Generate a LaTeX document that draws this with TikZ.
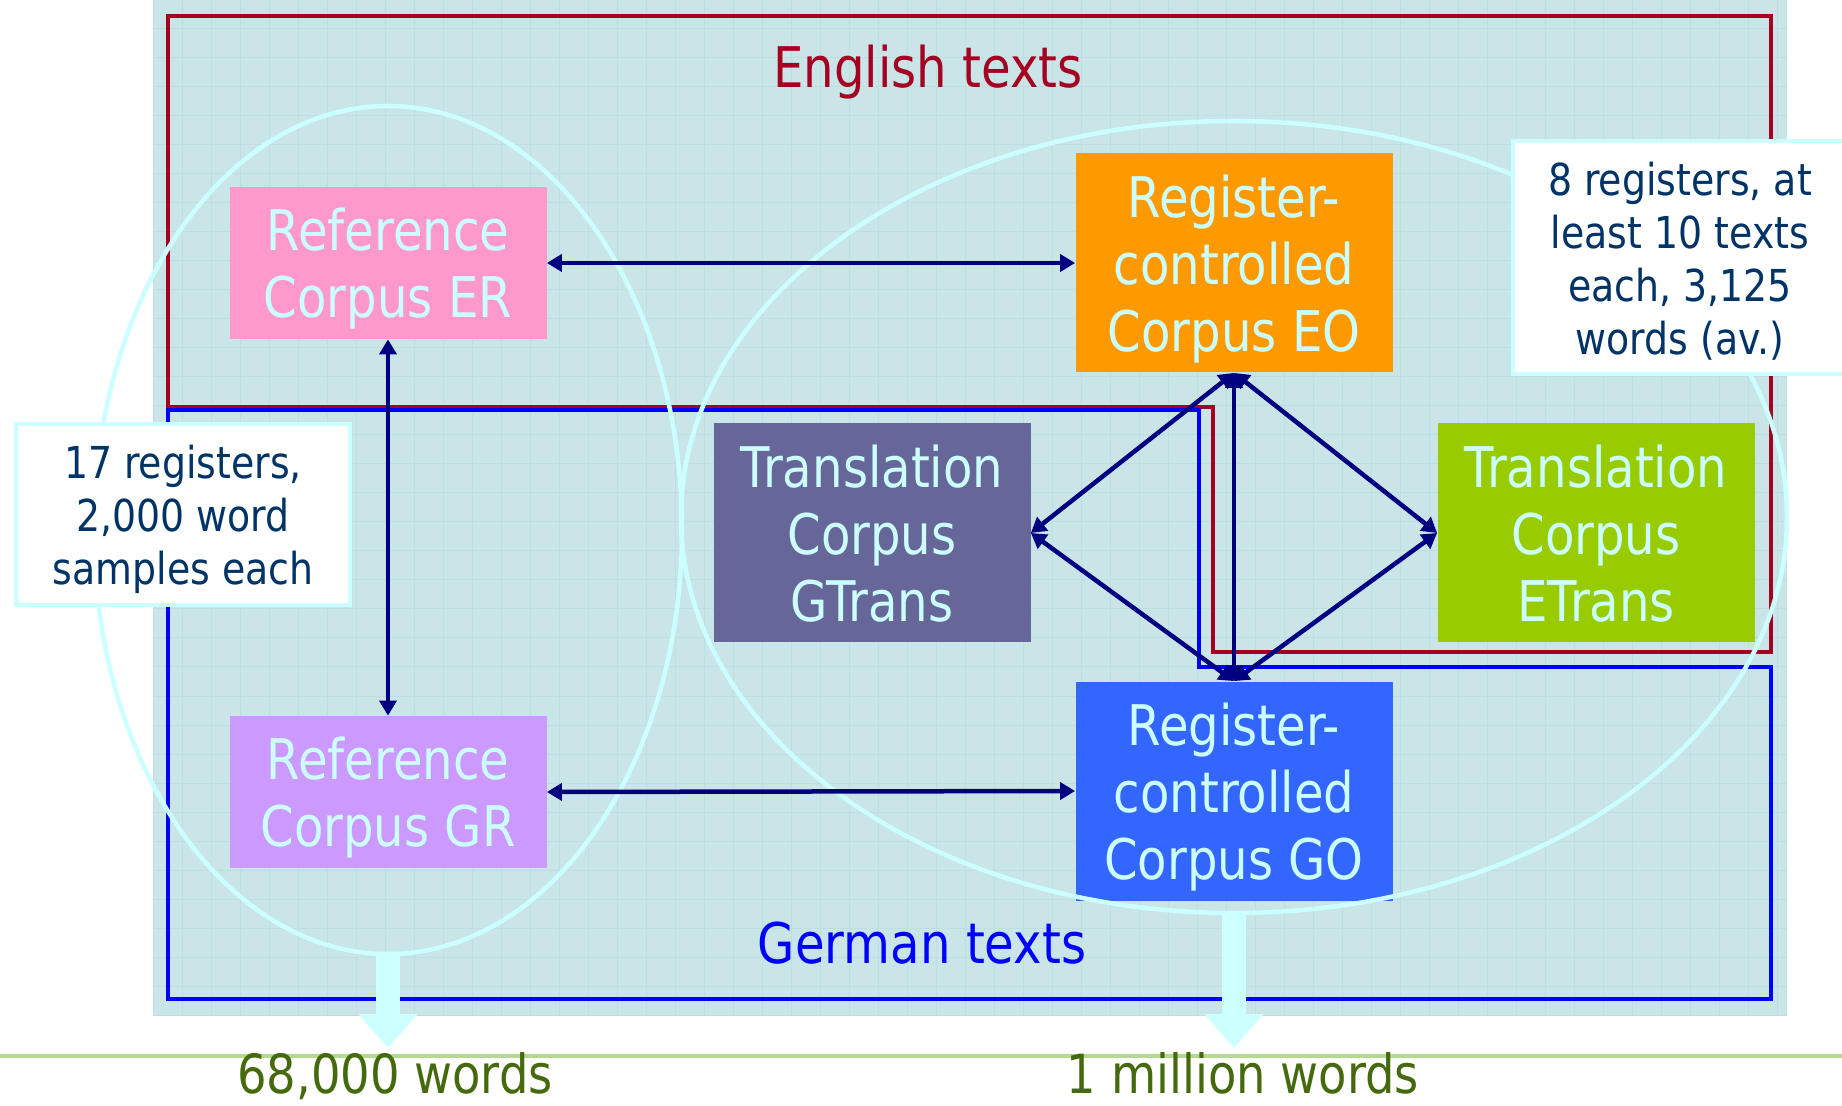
\documentclass[tikz,border=0pt]{standalone}
\usepackage{fontspec}
\setmainfont{DejaVu Sans}[FakeStretch=0.86]
\usetikzlibrary{arrows.meta,shapes.geometric}

\definecolor{panelbg}{HTML}{C9E5E7}
\definecolor{gridcol}{HTML}{BEDFE2}
\definecolor{engred}{HTML}{A50021}
\definecolor{gerblue}{HTML}{0000FF}
\definecolor{boxtext}{HTML}{CCFFFF}
\definecolor{ringcyan}{HTML}{CCFFFF}
\definecolor{navy}{HTML}{000080}
\definecolor{notetext}{HTML}{003366}
\definecolor{sumgreen}{HTML}{456A0E}
\definecolor{sumline}{HTML}{B5D98E}

\begin{document}
\begin{tikzpicture}[x=0.5pt, y=-0.5pt,
    corpus/.style={minimum width=158.5pt, inner sep=0pt, text depth=0pt, align=center, text=boxtext, font=\fontsize{28}{33.5}\selectfont},
    link/.style={draw=navy, line width=2.25pt, {Triangle[length=7.5pt,width=8.5pt]}-{Triangle[length=7.5pt,width=8.5pt]}},
    setring/.style={ellipse, draw=ringcyan, line width=2.25pt, inner sep=0pt},
    callout/.style={draw=ringcyan, line width=2pt, fill=white, minimum width=167pt, inner sep=0pt, text depth=0pt, align=center, text=notetext, font=\fontsize{22}{26.5}\selectfont},
    bigarrow/.style={draw=ringcyan, line width=12pt, -{Triangle[length=17pt,width=28.5pt]}}]
    \useasboundingbox (0,0) rectangle (1842,1106);
    % panel and grid
    \fill[panelbg] (153,0) rectangle (1787,1015);
    \foreach \gx in {153,182,...,1787} {\draw[gridcol, line width=0.5pt] (\gx,0) -- (\gx,1015);}
    \foreach \gy in {0,29,...,1015} {\draw[gridcol, line width=0.5pt] (153,\gy) -- (1787,\gy);}
    % language areas
    \draw[engred, line width=2pt] (168,16) -- (1771,16) -- (1771,652) -- (1213,652) -- (1213,407) -- (168,407) -- cycle;
    \draw[gerblue, line width=2pt] (168,410) -- (1199,410) -- (1199,667) -- (1771,667) -- (1771,999) -- (168,999) -- cycle;
    \node[anchor=base, text=engred, font=\fontsize{28}{33}\selectfont] (entitle) at (928,88) {English texts};
    \node[anchor=base, text=gerblue, font=\fontsize{28}{33}\selectfont] (detitle) at (922,963) {German texts};
    % corpora
    \node[corpus, fill={rgb,255:red,255;green,153;blue,204}, minimum height=76pt] (er) at (388,263) {Reference\\Corpus ER};
    \node[corpus, fill={rgb,255:red,204;green,153;blue,255}, minimum height=76pt] (gr) at (388,792) {Reference\\Corpus GR};
    \node[corpus, fill={rgb,255:red,255;green,153;blue,0}, minimum height=109.5pt] (eo) at (1234,263) {Register-\\controlled\\Corpus EO};
    \node[corpus, fill={rgb,255:red,51;green,102;blue,255}, minimum height=109.5pt] (go) at (1234,791) {Register-\\controlled\\Corpus GO};
    \node[corpus, fill={rgb,255:red,102;green,102;blue,153}, minimum height=109.5pt] (gtrans) at (872,533) {Translation\\Corpus\\GTrans};
    \node[corpus, fill={rgb,255:red,153;green,204;blue,0}, minimum height=109.5pt] (etrans) at (1596,533) {Translation\\Corpus\\ETrans};
    % corpus groups
    \node[setring, minimum width=294pt, minimum height=424pt] (refset) at (388,530) {};
    \node[setring, minimum width=553pt, minimum height=396pt] (regset) at (1234,517) {};
    % links
    \draw[link] (er.east) -- (eo.west);
    \draw[link] (gr.east) -- (go.west);
    \draw[link] (er.south) -- (gr.north);
    \draw[link] (eo.south) -- (go.north);
    \draw[link] (eo.south) -- (gtrans.east);
    \draw[link] (eo.south) -- (etrans.west);
    \draw[link] (go.north) -- (gtrans.east);
    \draw[link] (go.north) -- (etrans.west);
    % notes
    \node[callout, minimum height=90.5pt] (refnote) at (183,515) {17 registers,\\2,000 word\\samples each};
    \node[callout, minimum height=116.5pt] (regnote) at (1680,258) {8 registers, at\\least 10 texts\\each, 3,125\\words (av.)};
    % totals
    \draw[sumline, line width=1.75pt] (0,1056) -- (1842,1056);
    \coordinate (refend) at (388,1048);
    \coordinate (regend) at (1234,1048);
    \draw[bigarrow] (refset.south) -- (refend);
    \draw[bigarrow] (regset.south) -- (regend);
    \node[anchor=base, text=sumgreen, font=\fontsize{27}{30}\selectfont] (refwords) at (395,1093) {68,000 words};
    \node[anchor=base, text=sumgreen, font=\fontsize{27}{30}\selectfont] (regwords) at (1243,1093) {1 million words};
\end{tikzpicture}
\end{document}
